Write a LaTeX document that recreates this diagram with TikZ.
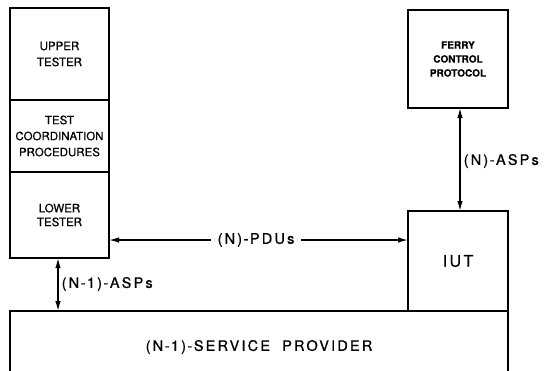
\documentclass[tikz,border=0pt]{standalone}
\usepackage{fontspec}
\setmainfont{TeX Gyre Heros}[FakeBold=0.6]
\newfontfamily\widefont{TeX Gyre Heros}[LetterSpace=15,FakeBold=0.8]
\usetikzlibrary{arrows.meta}
% a hyphen with a little air on both sides, as in the lettering
\newcommand{\hy}{\hspace{1.5pt}-\hspace{1.5pt}}
\begin{document}
\begin{tikzpicture}[x=1pt,y=-1pt,
  line width=1.4pt,
  box/.style={draw, rectangle, inner sep=0pt, outer sep=0pt, align=center,
    font=\fontsize{11.5}{16}\selectfont},
  biglabel/.style={inner sep=1pt, font=\widefont\fontsize{14.5}{16}\selectfont},
  tip/.style={-{Latex[length=10pt,width=5.5pt]}},
  dtip/.style={{Latex[length=10pt,width=5.5pt]}-{Latex[length=10pt,width=5.5pt]}}]
\useasboundingbox (0,0) rectangle (553,370);

% tester stack on the left
\node[box, anchor=north west, minimum width=99pt, minimum height=92pt]
  (upper) at (10,8) {UPPER\\TESTER};
\node[box, anchor=north west, minimum width=99pt, minimum height=72pt]
  (tcp) at (10,100) {TEST\\COORDINATION\\PROCEDURES};
\node[box, anchor=north west, minimum width=99pt, minimum height=86pt]
  (lower) at (10,172) {\raisebox{-6pt}{\shortstack{LOWER\\[2pt]TESTER}}};

% protocol above the implementation under test
\node[box, anchor=north west, minimum width=100pt, minimum height=98pt,
  font=\bfseries\fontsize{10}{14}\selectfont]
  (fcp) at (408,10) {FERRY\\CONTROL\\PROTOCOL};
\node[box, anchor=north west, minimum width=100pt, minimum height=100pt,
  font=\widefont\fontsize{16}{18}\selectfont]
  (iut) at (408,211) {IUT};

% service provider (its lower edge runs off the page)
\node[draw=none, anchor=north west, minimum width=498pt, minimum height=70pt,
  inner sep=0pt, outer sep=0pt] (sp) at (10,311) {};
\draw (sp.south west) -- (sp.north west) -- (sp.north east) -- (sp.south east);
\node[biglabel] (splabel) at (259,347) {(N\hy 1)\hy SERVICE\hspace{6pt} PROVIDER};

% peer exchange between lower tester and IUT
\coordinate (pdu1) at (lower.east |- 0,240);
\coordinate (pdu2) at (iut.west |- 0,240);
\node[biglabel, fill=white, inner xsep=6pt] (pdus) at (256,240) {(N)\hy PDUs};
\draw[tip] (pdus.west) -- (pdu1);
\draw[tip] (pdus.east) -- (pdu2);

% service primitives
\coordinate (asp1) at (fcp.south -| 460,0);
\coordinate (asp2) at (iut.north -| 460,0);
\draw[dtip] (asp1) -- (asp2);
\node[biglabel, anchor=west] (nasps) at (462,161) {(N)\hy ASPs};

\coordinate (lasp1) at (lower.south -| 58,0);
\coordinate (lasp2) at (sp.north -| 58,0);
\draw[dtip] (lasp1) -- (lasp2);
\node[biglabel, anchor=west] (lasps) at (60,284) {(N\hy 1)\hy ASPs};
\end{tikzpicture}
\end{document}
